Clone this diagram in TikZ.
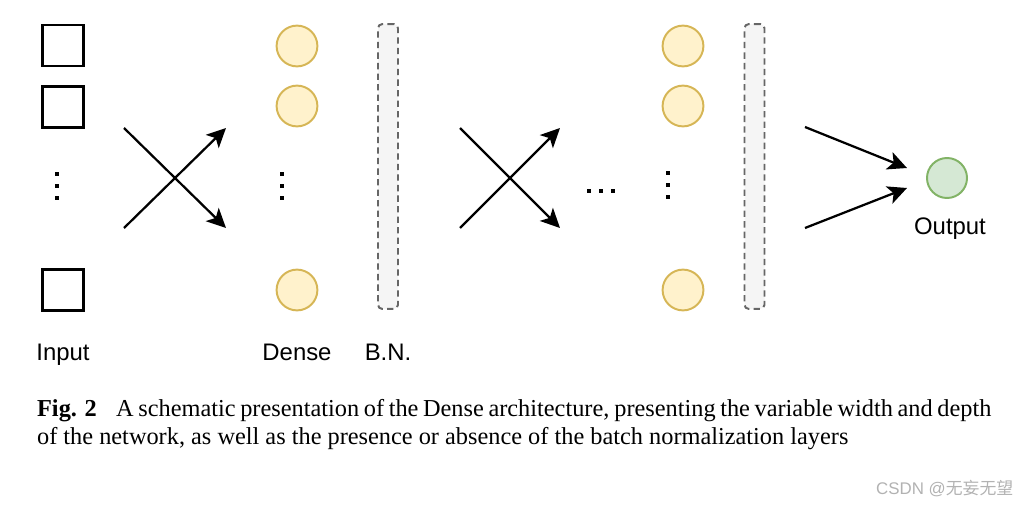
\documentclass[tikz,border=0pt]{standalone}
\usepackage{fontspec}
\setmainfont{Liberation Serif}
\setsansfont{Liberation Sans}
\newfontfamily\cjk{Noto Sans CJK SC}
\usetikzlibrary{arrows.meta}
\definecolor{dfill}{HTML}{FFF2CC}
\definecolor{ddraw}{HTML}{D6B656}
\definecolor{ofill}{HTML}{D5E8D4}
\definecolor{odraw}{HTML}{82B366}
\definecolor{bfill}{HTML}{F5F5F5}
\definecolor{bdraw}{HTML}{666666}
\tikzset{
  >={Stealth[length=4.8mm,width=4.6mm,inset=1.2mm]},
  sq/.style={rectangle,draw,line width=1.6pt,minimum size=1.02cm,inner sep=0pt},
  dn/.style={circle,draw=ddraw,fill=dfill,line width=1.4pt,minimum size=1.02cm,inner sep=0pt},
  on/.style={circle,draw=odraw,fill=ofill,line width=1.4pt,minimum size=1.0cm,inner sep=0pt},
  bn/.style={rectangle,draw=bdraw,fill=bfill,dashed,dash pattern=on 4.5pt off 3pt,line width=1.4pt,rounded corners=3pt,minimum width=0.5cm,minimum height=7.12cm,inner sep=0pt},
  lb/.style={font=\sffamily\fontsize{17}{20}\selectfont,anchor=base,inner sep=0pt},
  captxt/.style={font=\fontsize{17.3}{20}\selectfont,anchor=base west,inner sep=0pt},
  dt/.style={fill,minimum size=3.2pt,inner sep=0pt},
  every picture/.style={line width=1.6pt},
}
\begin{document}
\begin{tikzpicture}[x=0.025cm,y=-0.025cm]
\useasboundingbox (0,0) rectangle (1026,506);
% input column
\node[sq] (i1) at (63,45.5){}; \node[sq] (i2) at (63,107){}; \node[sq] (i3) at (63,290){};
\foreach \y in {174,186,198} \node[dt] at (57,\y){};
\node[lb] (lin) at (63,360){Input};
% first dense layer
\node[dn] (d1) at (297,46){}; \node[dn] (d2) at (297,106){}; \node[dn] (d3) at (297,290){};
\foreach \y in {174,186,198} \node[dt] at (282,\y){};
\node[lb] (lde) at (297,360){Dense};
\node[bn] (bn1) at (388,166.5){};
\node[lb] (lbn) at (388,360){B.N.};
% crossing arrows
\coordinate (a1) at (124,128); \coordinate (a2) at (124,228);
\coordinate (a3) at (226,128); \coordinate (a4) at (226,228);
\draw[->] (a1)--(a4); \draw[->] (a2)--(a3);
\coordinate (b1) at (460,128); \coordinate (b2) at (460,228);
\coordinate (b3) at (560,128); \coordinate (b4) at (560,228);
\draw[->] (b1)--(b4); \draw[->] (b2)--(b3);
\foreach \x in {589,601,613} \node[dt] at (\x,191){};
% last dense layer
\node[dn] (e1) at (683,46){}; \node[dn] (e2) at (683,106){}; \node[dn] (e3) at (683,290){};
\foreach \y in {173,185,197} \node[dt] at (668,\y){};
\node[bn] (bn2) at (754.5,166.5){};
% output
\node[on] (out) at (947,178){};
\node[lb] (lout) at (950,234){Output};
\coordinate (c1) at (805,127); \coordinate (c2) at (805,228);
\coordinate (c3) at (907,168); \coordinate (c4) at (907,188);
\draw[->] (c1)--(c3); \draw[->] (c2)--(c4);
% caption
\node[captxt] (cap1) at (36,416){\hbox to 23.85cm{\textbf{Fig. 2}\hspace{0.8em}A schematic presentation of the Dense architecture, presenting the variable width and depth}};
\node[captxt] (cap2) at (36,444){of the network, as well as the presence or absence of the batch normalization layers};
\node[anchor=base west,inner sep=0pt,text=black!30,font=\sffamily\fontsize{12}{14}\selectfont] (wm) at (875,494){CSDN @{\cjk 无妄无望}};
\end{tikzpicture}
\end{document}
